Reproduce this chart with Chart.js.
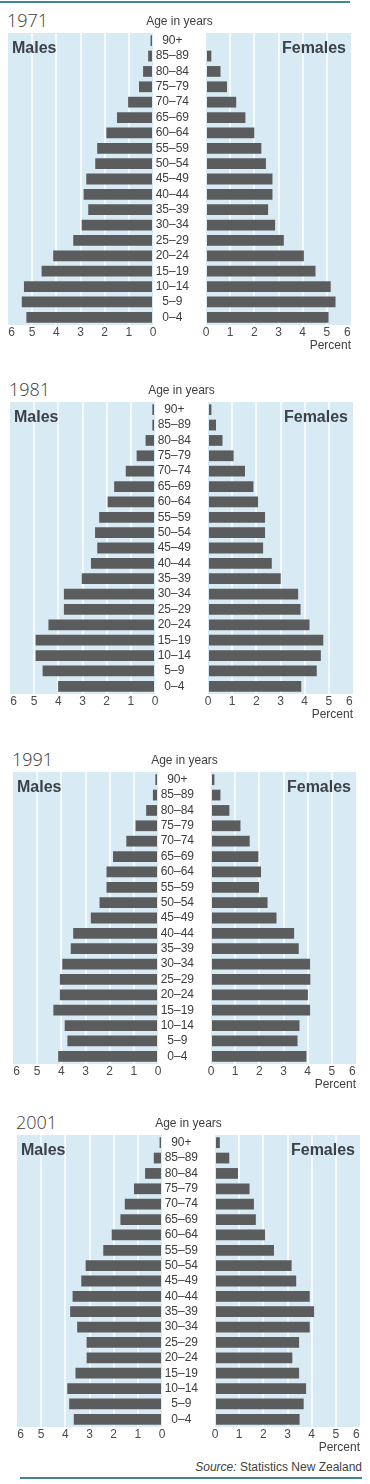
<!DOCTYPE html>
<html>
<head>
<meta charset="utf-8">
<script src="https://cdn.jsdelivr.net/npm/chart.js@4"></script>
<style>
  body { margin: 0; background: #fff; width: 370px; height: 1484px; position: relative; overflow: hidden;
         font-family: "Liberation Sans", Arial, sans-serif; color: #404040; }
  canvas { position: absolute; }
  .txt { position: absolute; white-space: nowrap; }
  .year { font-family: "Open Sans", sans-serif; font-weight: 300; font-size: 18px; line-height: 18px; color: #3a3a3a; }
  .small { font-size: 12px; line-height: 12px; }
  .sex { font-weight: bold; font-size: 16px; line-height: 16px; color: #3c4048; }
  .rule { position: absolute; height: 2px; background: #3f8791; }
</style>
</head>
<body>
<div class="rule" style="left:0;top:1px;width:350px"></div>
<div class="rule" style="left:20px;top:1477px;width:342px"></div>
<div class="txt small" style="right:8px;top:1461px"><i>Source:</i> Statistics New Zealand</div>

<script>
// age groups, bottom to top
const ageGroups = ['0–4', '5–9', '10–14', '15–19', '20–24', '25–29', '30–34', '35–39', '40–44',
  '45–49', '50–54', '55–59', '60–64', '65–69', '70–74', '75–79', '80–84', '85–89', '90+'];
const tickLabels = ['0', '1', '2', '3', '4', '5', '6'];
const years = ['1971', '1981', '1991', '2001'];

// percent of total population
const males1971 = [5.24, 5.43, 5.34, 4.61, 4.13, 3.30, 2.95, 2.68, 2.87, 2.76, 2.39, 2.31, 1.93, 1.49, 1.03, 0.58, 0.41, 0.20, 0.10];
const females1971 = [5.07, 5.36, 5.16, 4.53, 4.05, 3.22, 2.86, 2.57, 2.75, 2.75, 2.48, 2.29, 2.00, 1.63, 1.25, 0.87, 0.60, 0.22, 0];
const males1981 = [4.01, 4.65, 4.94, 4.94, 4.41, 3.77, 3.77, 3.03, 2.65, 2.39, 2.48, 2.31, 1.96, 1.69, 1.21, 0.76, 0.39, 0.11, 0.11];
const females1981 = [3.86, 4.50, 4.67, 4.77, 4.20, 3.83, 3.73, 3.01, 2.64, 2.28, 2.36, 2.36, 2.07, 1.88, 1.53, 1.06, 0.60, 0.33, 0.14];
const males1991 = [4.13, 3.75, 3.86, 4.33, 4.06, 4.06, 3.96, 3.61, 3.51, 2.78, 2.42, 2.13, 2.13, 1.86, 1.31, 0.93, 0.49, 0.21, 0.11];
const females1991 = [3.95, 3.58, 3.66, 4.10, 4.01, 4.11, 4.10, 3.63, 3.44, 2.71, 2.34, 1.99, 2.07, 1.96, 1.60, 1.22, 0.76, 0.39, 0.14];
const males2001 = [3.65, 3.84, 3.92, 3.58, 3.12, 3.12, 3.51, 3.80, 3.70, 3.34, 3.16, 2.43, 2.08, 1.72, 1.54, 1.16, 0.70, 0.34, 0.10];
const females2001 = [3.50, 3.67, 3.77, 3.48, 3.20, 3.48, 3.92, 4.10, 3.92, 3.36, 3.17, 2.44, 2.07, 1.69, 1.61, 1.43, 0.95, 0.59, 0.20];

const series = [[males1971, females1971], [males1981, females1981], [males1991, females1991], [males2001, females2001]];

// layout (the scan drifts a little to the right going down)
const chartTops = [33, 402, 772, 1135];
const panelLefts = [8, 10, 13, 17];
const W = 145, GAP = 53, H = 292, AXIS_H = 20;
const FONT = '"Liberation Sans", Arial, sans-serif';
const tickPos = [0, 1, 2, 3, 4, 5, 5.85]; // "6" sits just inside the panel edge

const panelFill = {
  id: 'panelFill',
  beforeDraw(chart) {
    const { ctx, chartArea: a } = chart;
    ctx.save();
    ctx.fillStyle = '#d8ebf4';
    ctx.fillRect(a.left, a.top, a.width, a.height);
    ctx.restore();
  }
};

function xAxis(reverse) {
  return {
    min: 0, max: 6, reverse: reverse,
    afterBuildTicks: s => { s.ticks = tickPos.map(v => ({ value: v })); },
    afterFit: s => { s.height = AXIS_H; s.paddingLeft = 0; s.paddingRight = 0; },
    ticks: { padding: 0, autoSkip: false, maxRotation: 0, color: '#4a4a4a',
             font: { size: 12, family: FONT }, callback: (v, i) => tickLabels[i] },
    grid: { drawTicks: false, lineWidth: 2,
            color: c => (c.tick && c.tick.value >= 1 && c.tick.value <= 5) ? '#f3f9fc' : 'rgba(0,0,0,0)' },
    border: { display: false }
  };
}

function addCanvas(left, top, w, h) {
  const c = document.createElement('canvas');
  c.width = w; c.height = h;
  c.style.left = left + 'px'; c.style.top = top + 'px';
  c.style.width = w + 'px'; c.style.height = h + 'px';
  document.body.appendChild(c);
  return c;
}

function addText(cls, html, css) {
  const d = document.createElement('div');
  d.className = 'txt ' + cls;
  d.innerHTML = html;
  Object.assign(d.style, css);
  document.body.appendChild(d);
}

function barSet(data) {
  return [{ data: data, backgroundColor: '#5b5c5e', barPercentage: 0.7, categoryPercentage: 1 }];
}

years.forEach((year, k) => {
  const top = chartTops[k], left = panelLefts[k];
  const [m, f] = series[k];

  const cm = addCanvas(left, top, W + 6, H + AXIS_H);
  new Chart(cm, {
    type: 'bar',
    data: { labels: ageGroups, datasets: barSet(m) },
    options: {
      indexAxis: 'y', responsive: false, animation: false,
      layout: { padding: { right: 6 } },
      plugins: { legend: { display: false }, tooltip: { enabled: false } },
      scales: { x: xAxis(true), y: { reverse: true, display: false } }
    },
    plugins: [panelFill]
  });

  const cf = addCanvas(left + W, top, GAP + W, H + AXIS_H);
  new Chart(cf, {
    type: 'bar',
    data: { labels: ageGroups, datasets: barSet(f) },
    options: {
      indexAxis: 'y', responsive: false, animation: false,
      plugins: { legend: { display: false }, tooltip: { enabled: false } },
      scales: {
        x: xAxis(false),
        y: {
          reverse: true, position: 'left',
          afterFit: s => { s.width = GAP; s.paddingTop = 0; s.paddingBottom = 0; },
          grid: { display: false }, border: { display: false },
          ticks: { crossAlign: 'center', padding: 9, autoSkip: false, color: '#3d3d3d',
                   font: { size: 12, family: FONT } }
        }
      }
    },
    plugins: [panelFill]
  });

  const rightEnd = left + W + GAP + W;
  addText('year', year, { left: (left - 1) + 'px', top: (top - 22) + 'px' });
  addText('small', 'Age in years', { left: (left + W + GAP / 2 - 35) + 'px', top: (top - 18) + 'px', width: '70px', textAlign: 'center' });
  addText('sex', 'Males', { left: (left + 4) + 'px', top: (top + 7) + 'px' });
  addText('sex', 'Females', { right: (370 - rightEnd + 5) + 'px', top: (top + 7) + 'px' });
  addText('small', 'Percent', { right: (370 - rightEnd) + 'px', top: (top + H + 14) + 'px' });
});
</script>
</body>
</html>
